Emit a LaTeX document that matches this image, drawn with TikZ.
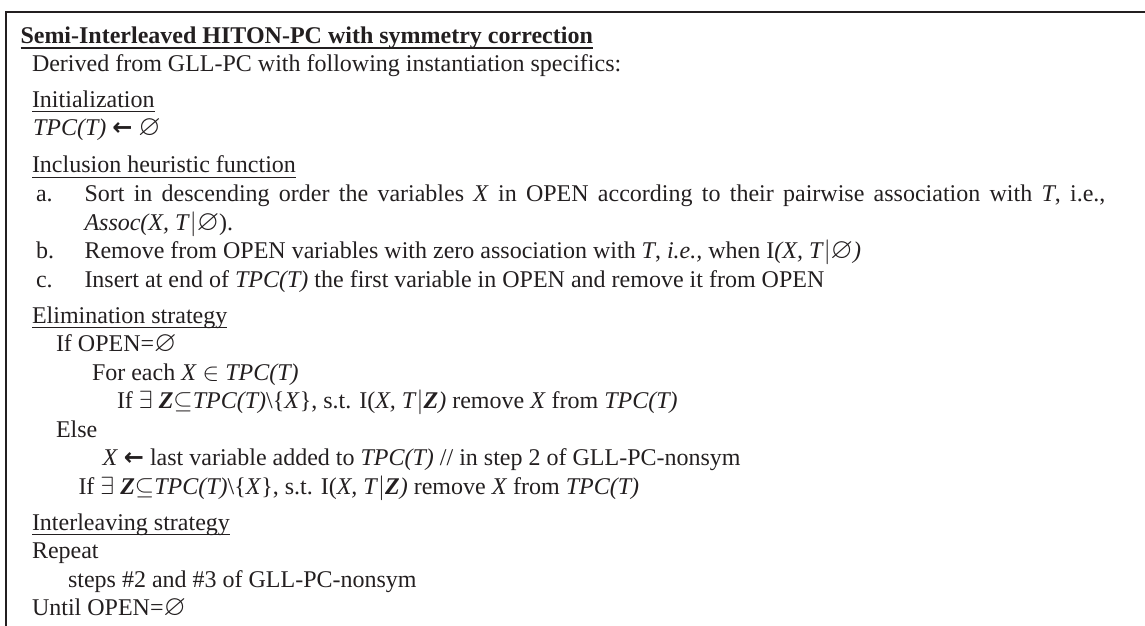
\documentclass[tikz,border=0pt]{standalone}
\usepackage{amssymb}
\usepackage{fontspec}
\setmainfont{Liberation Serif}
\newfontfamily\symfnt{DejaVu Sans}
\definecolor{ink}{RGB}{35,31,32}
\newcommand{\es}{\raisebox{-0.3pt}{\scalebox{1.2}{$\varnothing$}}}
\newcommand{\la}{{\symfnt\bfseries ←}}
\newcommand{\bZ}{\textbf{\textit{Z}}}
\begin{document}
\begin{tikzpicture}[x=1pt,y=-1pt,
  txt/.style={anchor=base west, inner sep=0pt, outer sep=0pt, text=ink, font=\fontsize{24}{28}\selectfont},
  frame/.style={draw=ink, line width=2pt},
  ul/.style={draw=ink, line width=1.3pt},
  ulb/.style={draw=ink, line width=2pt}]
\useasboundingbox (0,0) rectangle (1145,626);
% frame
\coordinate (tl) at (5.5,12);
\coordinate (tr) at (1145,12);
\coordinate (bl) at (5.5,626);
\draw[frame] (tr) -- (tl) -- (bl);
% title
\node[txt] (title) at (20.5,43.3) {\textbf{Semi-Interleaved HITON-PC with symmetry correction}};
\draw[ulb] ([yshift=-4.8pt]title.base west) -- ([yshift=-4.8pt]title.base east);
\node[txt] (derived) at (32,71.5) {Derived from GLL-PC with following instantiation specifics:};
\node[txt] (init) at (32,107) {Initialization};
\draw[ul] ([yshift=-4.8pt]init.base west) -- ([yshift=-4.8pt]init.base east);
\node[txt] (tpc) at (33,135.5) {\textit{TPC(T)} \la{} \es};
\node[txt] (inc) at (32,172.5) {Inclusion heuristic function};
\draw[ul] ([yshift=-4.8pt]inc.base west) -- ([yshift=-4.8pt]inc.base east);
\node[txt] (la) at (36,201.5) {a.};
\node[txt] (sa) at (84.5,201.5) {\makebox[1021pt][s]{Sort in descending order the variables \textit{X} in OPEN according to their pairwise association with \textit{T}, i.e.,}};
\node[txt] (sa2) at (84.5,230) {\textit{Assoc(X, T}$|$\es).};
\node[txt] (lb) at (36,258.5) {b.};
\node[txt] (sb) at (84.5,258.5) {Remove from OPEN variables with zero association with \textit{T}, \textit{i.e.,} when I\textit{(X, T}$|$\es\textit{)}};
\node[txt] (lc) at (36,287) {c.};
\node[txt] (sc) at (84.5,287) {Insert at end of \textit{TPC(T)} the first variable in OPEN and remove it from OPEN};
\node[txt] (elim) at (32,323) {Elimination strategy};
\draw[ul] ([yshift=-4.8pt]elim.base west) -- ([yshift=-4.8pt]elim.base east);
\node[txt] (e1) at (56,351.5) {If OPEN=\es};
\node[txt] (e2) at (92,380) {For each \textit{X} $\in$ \textit{TPC(T)}};
\node[txt] (e3) at (117,408.5) {If $\exists$ \bZ$\subseteq$\textit{TPC(T)}\textbackslash\{\textit{X}\}, s.t. I(\textit{X, T}$|$\bZ\textit{)} remove \textit{X} from \textit{TPC(T)}};
\node[txt] (e4) at (56,437) {Else};
\node[txt] (e5) at (102.5,465.5) {\textit{X} \la{} last variable added to \textit{TPC(T)} // in step 2 of GLL-PC-nonsym};
\node[txt] (e6) at (78.5,494) {If $\exists$ \bZ$\subseteq$\textit{TPC(T)}\textbackslash\{\textit{X}\}, s.t. I(\textit{X, T}$|$\bZ\textit{)} remove \textit{X} from \textit{TPC(T)}};
\node[txt] (inter) at (32,530) {Interleaving strategy};
\draw[ul] ([yshift=-4.8pt]inter.base west) -- ([yshift=-4.8pt]inter.base east);
\node[txt] (i1) at (32,558.5) {Repeat};
\node[txt] (i2) at (68,587) {steps \#2 and \#3 of GLL-PC-nonsym};
\node[txt] (i3) at (32,615.5) {Until OPEN=\es};
\end{tikzpicture}
\end{document}
